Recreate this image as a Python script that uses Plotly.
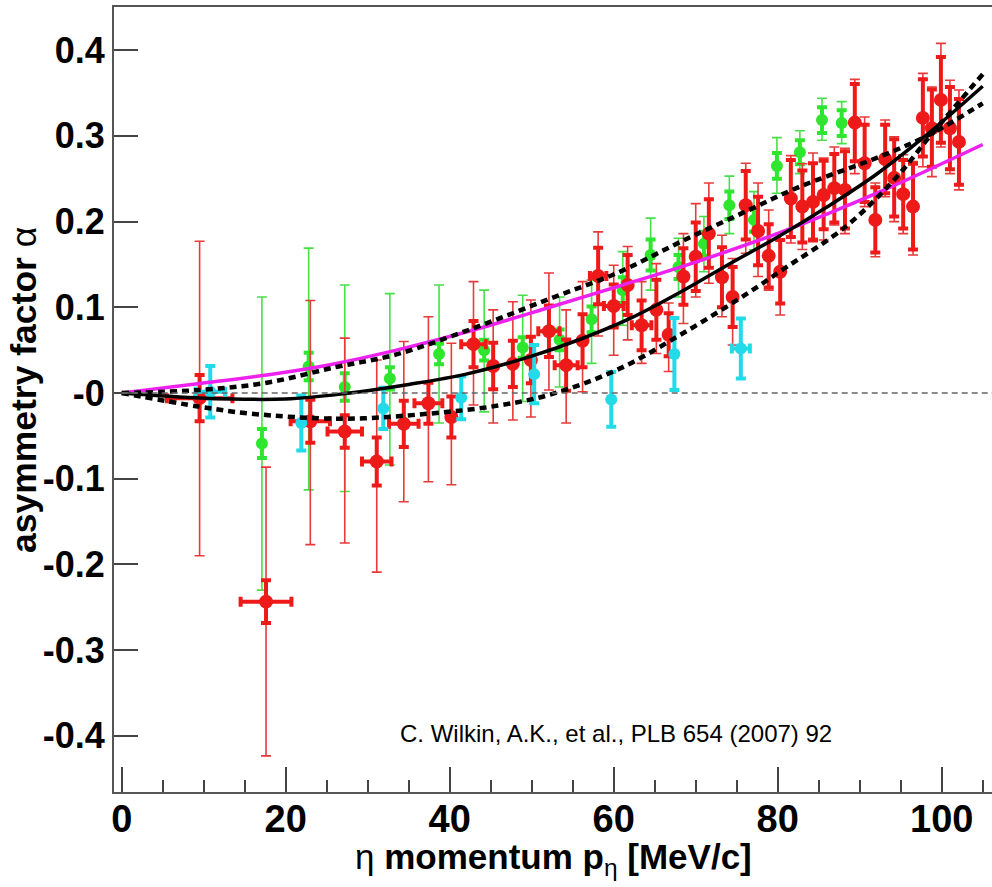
import plotly.graph_objects as go

# ---------------- data ----------------
# red data set: x, y, inner (thick) error, outer (thin) errors, horizontal error
red_x = [9.5, 17.6, 23.0, 27.2, 31.1, 34.4, 37.4, 40.2, 42.9, 45.3, 47.7, 49.9, 52.1, 54.2, 56.2,
         58.1, 60.0, 61.7, 63.4, 65.2, 66.7, 68.5, 70.0, 71.6, 73.2, 74.5, 76.1, 77.6, 78.9, 80.3,
         81.6, 83.0, 84.3, 85.6, 86.9, 88.2, 89.4, 90.6, 91.9, 93.1, 94.2, 95.3, 96.5, 97.7, 98.8,
         99.9, 101.0, 102.1]
red_y = [-0.006, -0.2435, -0.033, -0.045, -0.080, -0.036, -0.012, -0.028, 0.057, 0.0315, 0.034,
         0.0385, 0.072, 0.0325, 0.061, 0.1365, 0.1015, 0.126, 0.079, 0.097, 0.068, 0.136, 0.159,
         0.186, 0.135, 0.112, 0.219, 0.189, 0.160, 0.1415, 0.227, 0.2175, 0.223, 0.231, 0.239,
         0.237, 0.3155, 0.268, 0.202, 0.273, 0.251, 0.232, 0.2175, 0.321, 0.309, 0.342, 0.309, 0.293]
red_inner = [0.027, 0.025, 0.025, 0.019, 0.028, 0.027, 0.024, 0.024, 0.027, 0.027, 0.027, 0.027,
             0.03, 0.03, 0.031, 0.033, 0.025, 0.035, 0.029, 0.035, 0.025, 0.033, 0.04, 0.04, 0.035,
             0.035, 0.04, 0.04, 0.037, 0.037, 0.045, 0.042, 0.045, 0.04, 0.04, 0.045, 0.045, 0.045,
             0.038, 0.04, 0.045, 0.04, 0.05, 0.045, 0.045, 0.05, 0.048, 0.05]
red_outer_plus = [0.183, 0.157, 0.141, 0.109, 0.1185, 0.096, 0.101, 0.086, 0.073, 0.0655, 0.0725,
                  0.070, 0.068, 0.0645, 0.069, 0.0515, 0.0475, 0.045, 0.051, 0.054, 0.037, 0.050,
                  0.062, 0.059, 0.049, 0.045, 0.049, 0.056, 0.0535, 0.0445, 0.050, 0.05, 0.057,
                  0.043, 0.048, 0.0485, 0.0505, 0.054, 0.043, 0.0455, 0.048, 0.046, 0.0525, 0.052,
                  0.048, 0.066, 0.056, 0.0605]
red_outer_minus = [0.184, 0.18, 0.144, 0.130, 0.129, 0.091, 0.0915, 0.079, 0.071, 0.0665, 0.0655,
                   0.0665, 0.0685, 0.0675, 0.0595, 0.07, 0.0575, 0.064, 0.0445, 0.051, 0.043, 0.055,
                   0.047, 0.058, 0.046, 0.056, 0.056, 0.053, 0.040, 0.0505, 0.052, 0.05, 0.0425,
                   0.0525, 0.043, 0.051, 0.0595, 0.0505, 0.043, 0.044, 0.051, 0.046, 0.0565, 0.057,
                   0.0565, 0.055, 0.053, 0.056]
red_xerr = [4.0, 3.1, 2.4, 2.1, 1.8, 1.8, 1.7, 0, 1.5, 0, 0, 0, 1.3, 1.4, 0, 1.0, 1.2, 0, 1.2, 0,
            0, 0, 0, 0, 0, 0, 0, 0, 0, 0, 0, 0, 0, 0, 0, 0, 0, 0, 0, 0, 0, 0, 0, 0, 0, 0, 0, 0]

# green data set
green_x = [17.1, 22.8, 27.2, 32.7, 38.7, 44.2, 48.9, 53.4, 57.3, 61.1, 64.5, 67.9, 71.0, 74.1,
           77.1, 79.9, 82.7, 85.4, 87.8]
green_y = [-0.059, 0.031, 0.007, 0.017, 0.0455, 0.050, 0.053, 0.062, 0.086, 0.120, 0.161, 0.147,
           0.174, 0.219, 0.202, 0.265, 0.281, 0.3185, 0.315]
green_inner = [0.017, 0.016, 0.016, 0.013, 0.012, 0.012, 0.012, 0.012, 0.015, 0.015, 0.018, 0.014,
               0.014, 0.016, 0.014, 0.015, 0.014, 0.015, 0.015]
green_outer_plus = [0.171, 0.138, 0.119, 0.099, 0.0805, 0.070, 0.061, 0.050, 0.046, 0.045, 0.043,
                    0.0335, 0.032, 0.034, 0.033, 0.033, 0.025, 0.0255, 0.025]
green_outer_minus = [0.171, 0.144, 0.122, 0.101, 0.0805, 0.072, 0.063, 0.055, 0.0515, 0.041, 0.041,
                     0.035, 0.0325, 0.033, 0.035, 0.032, 0.025, 0.0235, 0.024]

# cyan data set
cyan_x = [10.8, 21.9, 31.9, 41.4, 50.3, 59.7, 67.4, 75.5]
cyan_y = [0.0015, -0.035, -0.018, -0.0055, 0.022, -0.0075, 0.0455, 0.052]
cyan_err = [0.030, 0.032, 0.024, 0.025, 0.034, 0.032, 0.042, 0.035]
cyan_xerr = [1.8, 0, 0, 0, 0, 0, 0, 1.1]

# fitted curves
magenta_x = [0, 9.5, 17.7, 25.4, 33.5, 42.9, 52.2, 60.4, 68.5, 80.5, 92.5, 105.0]
magenta_y = [0, 0.011, 0.021, 0.033, 0.050, 0.0735, 0.100, 0.124, 0.148, 0.188, 0.235, 0.290]

black_x = [0, 10, 20, 27, 35, 42, 50, 56, 62, 68, 74, 80, 86, 92, 98, 105]
black_y = [0, -0.006, -0.007, -0.001, 0.010, 0.022, 0.043, 0.063, 0.087, 0.117, 0.150, 0.182,
           0.217, 0.255, 0.300, 0.358]

upper_x = [0, 9.5, 17.7, 26, 33.5, 43, 52.2, 60.4, 68.5, 76.6, 82.5, 92.5, 98.6, 105]
upper_y = [0, 0.0035, 0.012, 0.030, 0.045, 0.076, 0.110, 0.140, 0.178, 0.214, 0.240, 0.276, 0.302,
           0.338]

lower_x = [0, 9.5, 15.6, 27, 37.6, 45.7, 52.2, 60.4, 68.5, 76.6, 80.3, 88.4, 94.5, 98.6, 105]
lower_y = [0, -0.016, -0.024, -0.030, -0.024, -0.015, -0.002, 0.027, 0.070, 0.118, 0.142, 0.195,
           0.252, 0.300, 0.372]

x_ticks = [0, 20, 40, 60, 80, 100]
y_ticks = [-0.4, -0.3, -0.2, -0.1, 0.0, 0.1, 0.2, 0.3, 0.4]
y_ticktext = ["-0.4", "-0.3", "-0.2", "-0.1", "-0", "0.1", "0.2", "0.3", "0.4"]

citation = "C. Wilkin, A.K., et al., PLB 654 (2007) 92"

# ---------------- figure ----------------
RED = "#ee1a1a"
RED_THIN = "#e83a3a"
GREEN = "#2ee62e"
GREEN_THIN = "#48e048"
CYAN = "#22dbe8"

ARIAL = "Liberation Sans, Arial, sans-serif"


def nz(v):
    return [None if e == 0 else e for e in v]


fig = go.Figure()


def add_points(x, y, inner, oplus, ominus, xerr, col, thin_col, size):
    if oplus is not None:
        fig.add_trace(go.Scatter(
            x=x, y=y, mode="markers", marker=dict(size=1, color="rgba(0,0,0,0)"),
            error_y=dict(type="data", symmetric=False, array=oplus, arrayminus=ominus,
                         color=thin_col, thickness=1.6, width=5),
            hoverinfo="skip", showlegend=False))
    ex = None
    if xerr is not None:
        ex = dict(type="data", array=nz(xerr), color=col, thickness=4, width=5)
    fig.add_trace(go.Scatter(
        x=x, y=y, mode="markers", marker=dict(size=size, color=col),
        error_y=dict(type="data", array=inner, color=col, thickness=4, width=5),
        error_x=ex, showlegend=False))


add_points(green_x, green_y, green_inner, green_outer_plus, green_outer_minus, None,
           GREEN, GREEN_THIN, 12)
add_points(red_x, red_y, red_inner, red_outer_plus, red_outer_minus, red_xerr,
           RED, RED_THIN, 14)
add_points(cyan_x, cyan_y, cyan_err, None, None, cyan_xerr, CYAN, CYAN, 12)

# zero reference line
fig.add_shape(type="line", xref="x", yref="y", x0=0, x1=106.2, y0=0, y1=0,
              line=dict(color="#666666", width=1.6, dash="6px,4px"), layer="above")

fig.add_trace(go.Scatter(x=magenta_x, y=magenta_y, mode="lines", line_shape="spline",
                         line=dict(color="#ee22ee", width=3.5), showlegend=False))
fig.add_trace(go.Scatter(x=upper_x, y=upper_y, mode="lines", line_shape="spline",
                         line=dict(color="black", width=4.5, dash="7px,5px"), showlegend=False))
fig.add_trace(go.Scatter(x=lower_x, y=lower_y, mode="lines", line_shape="spline",
                         line=dict(color="black", width=4.5, dash="7px,5px"), showlegend=False))
fig.add_trace(go.Scatter(x=black_x, y=black_y, mode="lines", line_shape="spline",
                         line=dict(color="black", width=3.5), showlegend=False))

fig.add_annotation(x=60.3, y=-0.397, xref="x", yref="y", text=citation, showarrow=False,
                   font=dict(family=ARIAL, size=24, color="black"),
                   xanchor="center", yanchor="middle")

# axis titles
fig.add_annotation(xref="paper", yref="paper", x=0.5, y=-0.0855,
                   text="η <b>momentum p</b><sub>η</sub><b> [MeV/c]</b>", showarrow=False,
                   font=dict(family=ARIAL, size=35, color="black"),
                   xanchor="center", yanchor="middle")
fig.add_annotation(xref="paper", yref="paper", x=-0.1025, y=0.512, textangle=-90,
                   text="<b>asymmetry factor</b> α", showarrow=False,
                   font=dict(family=ARIAL, size=35.5, color="black"),
                   xanchor="center", yanchor="middle")

fig.update_layout(
    width=992, height=887,
    margin=dict(l=114, r=0, t=7, b=95),
    paper_bgcolor="white", plot_bgcolor="white",
    showlegend=False,
    xaxis=dict(range=[-0.94, 106.13], showgrid=False, zeroline=False, showline=True,
               linecolor="#555555", linewidth=2, mirror=True,
               ticks="inside", ticklen=25, tickwidth=1.5, tickcolor="#444444",
               tickvals=x_ticks, ticktext=[str(v) for v in x_ticks],
               ticklabelstandoff=-8,
               tickfont=dict(family=ARIAL, size=38, color="black", weight=700),
               minor=dict(ticks="inside", ticklen=12, dtick=5, tick0=0,
                          tickcolor="#444444", tickwidth=1.5, showgrid=False)),
    yaxis=dict(range=[-0.4656, 0.4504], showgrid=False, zeroline=False, showline=True,
               linecolor="#555555", linewidth=2, mirror=False,
               ticks="inside", ticklen=24, tickwidth=1.5, tickcolor="#444444",
               tickvals=y_ticks, ticktext=y_ticktext,
               tickfont=dict(family=ARIAL, size=36, color="black", weight=700)),
)

fig.write_html("out.html")
